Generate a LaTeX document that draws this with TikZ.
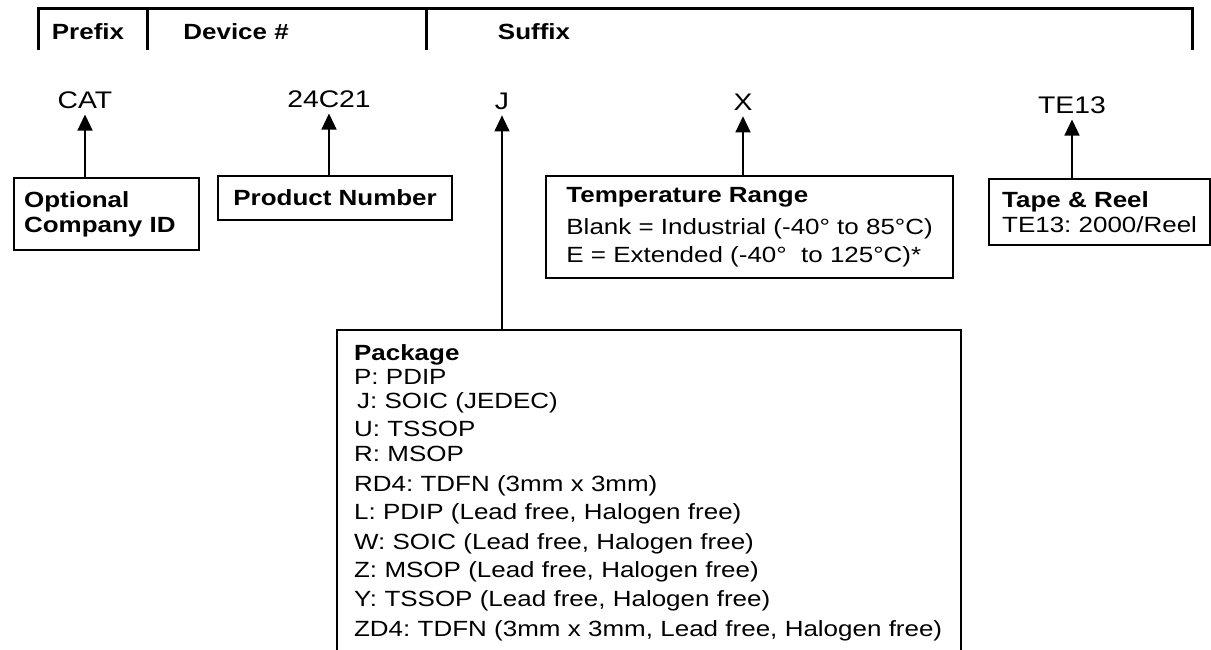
\documentclass[tikz,border=0pt]{standalone}
\usepackage{fontspec}
\setmainfont[FakeStretch=1.18]{Liberation Sans}
\usepackage{tikz}
\usetikzlibrary{positioning, shapes, arrows.meta, calc}
\frenchspacing

\begin{document}
\begin{tikzpicture}[x=0.5pt, y=-0.5pt,
  font=\fontsize{11}{14.5}\selectfont,
  box/.style={rectangle, draw, line width=1.1pt, anchor=north west, align=left},
  code/.style={inner sep=0pt, outer sep=3pt, font=\fontsize{12}{14}\selectfont},
  hdr/.style={font=\fontsize{11}{14.5}\selectfont\bfseries, inner sep=0pt},
  pointer/.style={-{Triangle[length=8pt,width=7.5pt]}, line width=0.6pt}]
  \useasboundingbox (0,0) rectangle (1211,649);
  \clip (0,0) rectangle (1211,649);

  % header bracket
  \draw[line width=1.5pt] (38,50) -- (38,8) -- (1192,8) -- (1192,50);
  \draw[line width=1.5pt] (147,8) -- (147,50);
  \draw[line width=1.5pt] (426,8) -- (426,50);
  \node[hdr] (prefix) at (88,32) {Prefix};
  \node[hdr, anchor=west] (device) at (183,32) {Device \#};
  \node[hdr] (suffix) at (534,32) {Suffix};

  % part number fields
  \node[code] (cat) at (85,100) {CAT};
  \node[code] (num) at (329,99) {24C21};
  \node[code] (pkgcode) at (502,101) {J};
  \node[code] (tempcode) at (743,102) {X};
  \node[code] (reelcode) at (1072,105) {TE13};

  % explanation boxes
  \node[box, inner xsep=5pt, text width=82.5pt, minimum height=36pt, font=\fontsize{11}{12.5}\selectfont\bfseries] (comp) at (13,177) {Optional\\Company ID};
  \node[box, align=center, minimum width=117pt, minimum height=22pt, font=\fontsize{11}{12.5}\selectfont\bfseries] (prod) at (217,175) {Product Number};
  \node[box, minimum width=203.5pt, minimum height=51pt] (temp) at (545,175) {\textbf{Temperature Range}\\[1.5pt]Blank = Industrial (-40° to 85°C)\\[-0.5pt]E = Extended (-40°\ \ to 125°C)*};
  \node[box, minimum width=110.5pt, minimum height=33pt, font=\fontsize{11}{12.5}\selectfont] (reel) at (988,178) {\textbf{Tape \& Reel}\\TE13: 2000/Reel};
  \node[box, inner xsep=8.5pt, inner ysep=7pt, text width=295pt] (pkg) at (336,329) {\textbf{Package}\\[-2.5pt]
    P: PDIP\\[-2.5pt]
    \hspace*{1.5pt}J: SOIC (JEDEC)\\[-0.5pt]
    U: TSSOP\\[-2pt]
    R: MSOP\\[0.5pt]
    RD4: TDFN (3mm x 3mm)\\[-0.5pt]
    L: PDIP (Lead free, Halogen free)\\[0.5pt]
    W: SOIC (Lead free, Halogen free)\\[-0.5pt]
    Z: MSOP (Lead free, Halogen free)\\
    Y: TSSOP (Lead free, Halogen free)\\[0.5pt]
    ZD4: TDFN (3mm x 3mm, Lead free, Halogen free)\rule[-30pt]{0pt}{30pt}};

  \draw[pointer] (comp.north -| cat) -- (cat);
  \draw[pointer] (prod.north -| num) -- (num);
  \draw[pointer] (pkg.north -| pkgcode) -- (pkgcode);
  \draw[pointer] (temp.north -| tempcode) -- (tempcode);
  \draw[pointer] (reel.north -| reelcode) -- (reelcode);
\end{tikzpicture}
\end{document}
